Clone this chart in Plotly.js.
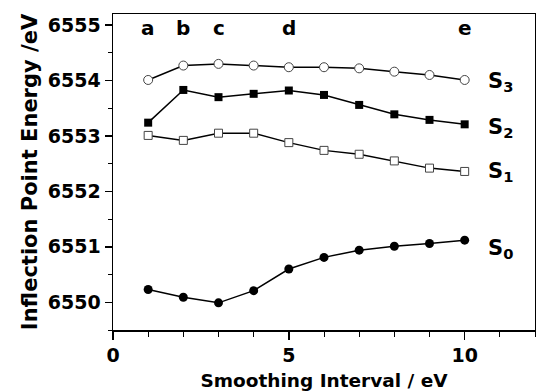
<!DOCTYPE html>
<html><head><meta charset="utf-8">
<script src="https://cdn.plot.ly/plotly-3.0.1.min.js"></script>
<style>html,body{margin:0;padding:0;background:#fff}#c{width:536px;height:392px}</style>
</head><body><div id="c"></div>
<script>
const xs = [1,2,3,4,5,6,7,8,9,10];
const s0 = [6550.23,6550.09,6549.99,6550.21,6550.60,6550.81,6550.94,6551.01,6551.06,6551.12];
const s1 = [6553.01,6552.92,6553.05,6553.05,6552.88,6552.74,6552.67,6552.55,6552.42,6552.36];
const s2 = [6553.24,6553.83,6553.70,6553.76,6553.82,6553.74,6553.56,6553.39,6553.29,6553.21];
const s3 = [6554.01,6554.27,6554.30,6554.27,6554.24,6554.24,6554.22,6554.16,6554.10,6554.01];
const letterX = [1,2,3,5,10];
const letters = ['a','b','c','d','e'];
const seriesLabels = ['S<sub>0</sub>','S<sub>1</sub>','S<sub>2</sub>','S<sub>3</sub>'];
const seriesLabelY = [6550.97,6552.35,6553.15,6553.97];

const F = 'DejaVu Sans';
const traces = [
  {x: xs, y: s0, mode:'lines+markers', line:{color:'#000',width:1.5}, marker:{symbol:'circle',size:9,color:'#000'}},
  {x: xs, y: s1, mode:'lines+markers', line:{color:'#000',width:1.5}, marker:{symbol:'square',size:8,color:'#fff',line:{color:'#444',width:1}}},
  {x: xs, y: s2, mode:'lines+markers', line:{color:'#000',width:1.5}, marker:{symbol:'square',size:8,color:'#000'}},
  {x: xs, y: s3, mode:'lines+markers', line:{color:'#000',width:1.5}, marker:{symbol:'circle',size:9,color:'#fff',line:{color:'#444',width:1}}}
];
const ann = [];
letters.forEach((t,i)=>ann.push({x:letterX[i], y:6554.95, text:t, showarrow:false, xref:'x', yref:'y',
  font:{family:F,size:20,color:'#000',weight:'bold'}}));
seriesLabels.forEach((t,i)=>ann.push({x:10.6, y:seriesLabelY[i], text:t, showarrow:false, xref:'x', yref:'y', xanchor:'left',
  font:{family:F,size:21,color:'#000',weight:'bold'}}));

const layout = {
  width:536, height:392, showlegend:false,
  paper_bgcolor:'#fff', plot_bgcolor:'#fff',
  margin:{l:113, r:1, t:14, b:62},
  font:{family:F, color:'#000', weight:'bold'},
  xaxis:{range:[0,12], tickvals:[0,5,10], ticks:'outside', ticklen:8, tickwidth:1.5, tickcolor:'#000',
    showline:true, linecolor:'#000', linewidth:1.5, mirror:true, showgrid:false, zeroline:false,
    tickfont:{family:F,size:19,color:'#000',weight:'bold'},
    minor:{dtick:1, tick0:0, ticks:'outside', ticklen:5, tickcolor:'#000', tickwidth:1},
    title:{text:'Smoothing Interval / eV', font:{family:F,size:18.5,color:'#000',weight:'bold'}, standoff:9}},
  yaxis:{range:[6549.5,6555.2], dtick:1, ticks:'outside', ticklen:7, tickwidth:1.5, tickcolor:'#000',
    showline:true, linecolor:'#000', linewidth:1.5, mirror:true, showgrid:false, zeroline:false,
    tickfont:{family:F,size:19,color:'#000',weight:'bold'},
    minor:{dtick:0.5, ticks:'outside', ticklen:4, tickcolor:'#000', tickwidth:1},
    title:{text:'Inflection Point Energy /eV', font:{family:F,size:21,color:'#000',weight:'bold'}, standoff:4}},
  annotations: ann
};
Plotly.newPlot('c', traces, layout, {staticPlot:true});
</script></body></html>
